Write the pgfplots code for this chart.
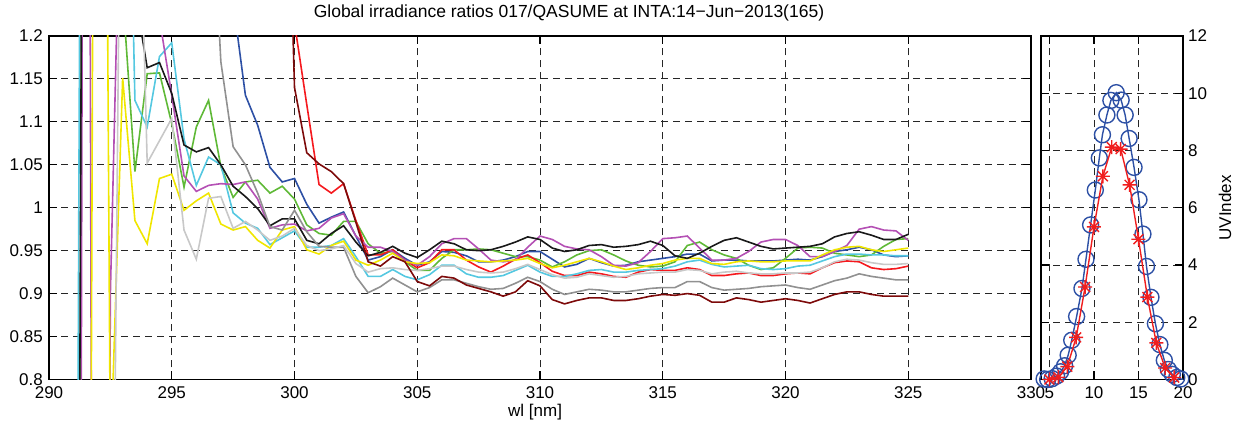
\documentclass[border=0pt]{standalone}
\usepackage{fontspec}
\setmainfont{Liberation Sans}
\usepackage{pgfplots}
\usepackage{pgfplotstable}
\pgfplotsset{compat=1.18}

\definecolor{cBlue}{RGB}{45,80,165}
\definecolor{cGreen}{RGB}{95,185,55}
\definecolor{cRed}{RGB}{245,25,30}
\definecolor{cCyan}{RGB}{85,200,225}
\definecolor{cMag}{RGB}{180,80,180}
\definecolor{cYel}{RGB}{240,230,0}
\definecolor{cBlack}{RGB}{25,25,25}
\definecolor{cGray}{RGB}{145,145,145}
\definecolor{cLGray}{RGB}{200,200,200}
\definecolor{cDRed}{RGB}{125,10,10}
\definecolor{uvBlue}{RGB}{45,80,165}
\definecolor{uvRed}{RGB}{240,30,30}

\pgfdeclareplotmark{mstar}{%
  \pgfpathmoveto{\pgfqpoint{-\pgfplotmarksize}{0pt}}\pgfpathlineto{\pgfqpoint{\pgfplotmarksize}{0pt}}%
  \pgfpathmoveto{\pgfqpoint{0pt}{-\pgfplotmarksize}}\pgfpathlineto{\pgfqpoint{0pt}{\pgfplotmarksize}}%
  \pgfpathmoveto{\pgfqpoint{-0.707\pgfplotmarksize}{-0.707\pgfplotmarksize}}\pgfpathlineto{\pgfqpoint{0.707\pgfplotmarksize}{0.707\pgfplotmarksize}}%
  \pgfpathmoveto{\pgfqpoint{-0.707\pgfplotmarksize}{0.707\pgfplotmarksize}}\pgfpathlineto{\pgfqpoint{0.707\pgfplotmarksize}{-0.707\pgfplotmarksize}}%
  \pgfusepathqstroke}

\pgfplotstableread{
x blue green red cyan mag yel black gray lgray dred
290 2 -1 2 -1 -3 -1 -1 2 -1 2
290.5 2 -1 2 -1 -3 -1 -1 2 -1 2
291 2 -2 2 -0.5 -3 -1 -1 2 -1 2
291.5 2 3 2 3 3 -1 2.5 2 -1 2
292 2 3 2 3 -2 3 2.5 2 -1 2
292.5 2 2 2 2.5 0.9 0.7 2.0 2 0.2 2
293 2 1.25 2 1.8 1.5 1.151 1.8 2 1.7 2
293.5 2 1.042 2 1.125 1.6 0.985 1.25 2 1.6 2
294 2 1.156 2 1.094 1.5 0.958 1.163 2 1.052 2
294.5 2 1.157 2 1.176 1.22 1.034 1.169 2 1.078 2
295 2 1.098 2 1.192 1.131 1.039 1.133 2 1.104 2
295.5 2 1.024 2 1.080 1.037 0.997 1.073 2 0.974 2
296 2 1.094 2 1.026 1.019 1.008 1.065 2 0.940 2
296.5 2 1.125 2 1.059 1.026 1.017 1.070 1.45 1.011 2
297 1.40 1.048 2 1.050 1.028 0.981 1.050 1.17 1.013 2
297.5 1.24 1.012 2 0.994 1.027 0.974 1.025 1.071 0.976 2
298 1.131 1.030 2 0.982 1.030 0.978 1.013 1.050 0.984 2
298.5 1.096 1.032 2 0.976 1.010 0.962 0.999 1.017 0.974 2
299 1.047 1.017 2 0.957 0.976 0.953 0.979 0.978 0.962 2
299.5 1.030 1.025 1.8 0.965 0.980 0.974 0.987 0.974 0.967 1.64
300 1.034 1.010 1.215 0.973 0.981 0.978 0.987 0.997 0.976 1.14
300.5 1.004 0.980 1.12 0.954 0.973 0.951 0.962 0.972 0.956 1.064
301 0.982 0.970 1.027 0.954 0.976 0.946 0.958 0.955 0.950 1.051
301.5 0.989 0.968 1.017 0.956 0.988 0.956 0.970 0.954 0.952 1.042
302 0.995 0.984 1.028 0.964 0.993 0.961 0.979 0.954 0.956 1.028
302.5 0.967 0.984 0.985 0.943 0.967 0.939 0.960 0.920 0.935 0.983
303 0.939 0.958 0.945 0.920 0.954 0.933 0.944 0.901 0.925 0.937
303.5 0.943 0.947 0.945 0.920 0.954 0.939 0.948 0.908 0.929 0.932
304 0.951 0.949 0.951 0.928 0.949 0.947 0.955 0.918 0.930 0.943
304.5 0.941 0.937 0.939 0.920 0.939 0.937 0.947 0.910 0.928 0.937
305 0.933 0.927 0.930 0.916 0.933 0.935 0.942 0.902 0.927 0.914
305.5 0.937 0.927 0.936 0.922 0.943 0.936 0.951 0.907 0.929 0.909
306 0.949 0.941 0.951 0.933 0.958 0.945 0.961 0.916 0.932 0.920
306.5 0.948 0.951 0.951 0.933 0.964 0.944 0.958 0.916 0.932 0.918
307 0.944 0.951 0.939 0.923 0.964 0.939 0.951 0.912 0.928 0.910
307.5 0.937 0.952 0.931 0.919 0.952 0.938 0.950 0.908 0.925 0.906
308 0.937 0.951 0.925 0.919 0.939 0.937 0.951 0.905 0.924 0.902
308.5 0.939 0.947 0.932 0.921 0.937 0.938 0.955 0.906 0.925 0.897
309 0.943 0.943 0.940 0.927 0.939 0.939 0.960 0.912 0.929 0.902
309.5 0.949 0.943 0.945 0.933 0.954 0.941 0.966 0.919 0.934 0.915
310 0.949 0.939 0.936 0.925 0.967 0.935 0.963 0.914 0.928 0.909
310.5 0.940 0.931 0.926 0.920 0.963 0.930 0.953 0.905 0.922 0.893
311 0.931 0.937 0.921 0.920 0.955 0.933 0.949 0.899 0.918 0.888
311.5 0.934 0.945 0.921 0.923 0.952 0.937 0.951 0.902 0.919 0.892
312 0.941 0.950 0.925 0.927 0.951 0.941 0.956 0.905 0.923 0.895
312.5 0.936 0.951 0.923 0.928 0.943 0.937 0.957 0.904 0.921 0.895
313 0.932 0.945 0.920 0.925 0.933 0.932 0.954 0.902 0.919 0.892
313.5 0.933 0.938 0.919 0.925 0.932 0.928 0.955 0.902 0.920 0.892
314 0.937 0.933 0.925 0.927 0.936 0.930 0.957 0.904 0.923 0.894
314.5 0.939 0.931 0.928 0.928 0.949 0.933 0.961 0.906 0.924 0.897
315 0.941 0.932 0.927 0.929 0.964 0.935 0.956 0.907 0.925 0.899
315.5 0.943 0.937 0.927 0.932 0.965 0.939 0.944 0.907 0.925 0.898
316 0.946 0.956 0.930 0.937 0.967 0.941 0.941 0.914 0.928 0.900
316.5 0.946 0.960 0.928 0.939 0.953 0.941 0.947 0.914 0.927 0.898
317 0.938 0.951 0.921 0.934 0.939 0.935 0.955 0.907 0.923 0.890
317.5 0.939 0.945 0.921 0.931 0.939 0.934 0.962 0.904 0.925 0.890
318 0.939 0.941 0.923 0.932 0.941 0.937 0.965 0.905 0.926 0.895
318.5 0.938 0.933 0.924 0.933 0.949 0.938 0.960 0.906 0.924 0.893
319 0.938 0.928 0.921 0.929 0.960 0.937 0.955 0.908 0.923 0.890
319.5 0.938 0.930 0.921 0.928 0.963 0.937 0.952 0.909 0.923 0.892
320 0.939 0.941 0.923 0.929 0.963 0.938 0.953 0.910 0.924 0.894
320.5 0.940 0.953 0.924 0.932 0.956 0.938 0.954 0.907 0.924 0.892
321 0.939 0.954 0.923 0.933 0.943 0.938 0.955 0.905 0.925 0.889
321.5 0.943 0.953 0.930 0.938 0.943 0.945 0.958 0.910 0.930 0.894
322 0.949 0.947 0.936 0.943 0.949 0.951 0.966 0.915 0.937 0.899
322.5 0.951 0.945 0.938 0.946 0.956 0.954 0.970 0.918 0.940 0.902
323 0.954 0.943 0.937 0.946 0.975 0.955 0.972 0.923 0.939 0.902
323.5 0.951 0.945 0.930 0.945 0.978 0.951 0.968 0.920 0.936 0.899
324 0.945 0.955 0.928 0.945 0.974 0.949 0.963 0.918 0.934 0.897
324.5 0.943 0.963 0.929 0.944 0.973 0.951 0.963 0.916 0.934 0.897
325 0.944 0.964 0.932 0.944 0.962 0.953 0.969 0.916 0.935 0.897
}\ratios

\pgfplotstableread{
t uvi
4.4 0.02
4.8 0.0
5.3 0.03
5.8 0.12
6.25 0.27
6.7 0.48
7.1 0.85
7.5 1.37
8.05 2.2
8.65 3.18
9.1 4.2
9.62 5.4
10.15 6.62
10.6 7.74
10.95 8.55
11.45 9.24
11.9 9.75
12.5 10.02
13.05 9.76
13.5 9.24
13.95 8.42
14.5 7.41
15.05 6.28
15.5 5.08
15.9 3.95
16.4 2.87
16.9 1.95
17.4 1.22
17.9 0.67
18.35 0.35
18.8 0.18
19.3 0.07
19.75 0.02
20.1 0.0
}\uvblue

\pgfplotstableread{
t uvi
5 0.0
6 0.08
7 0.45
8 1.47
9 3.23
10 5.33
11 7.1
12 8.12
13 8.05
14 6.8
15 4.9
16 2.88
17 1.28
18 0.4
19 0.07
}\uvred

\pgfplotsset{
  mystyle/.style={
    scale only axis,
    anchor=south west,
    height=343.5bp,
    axis line style={line width=1.5bp, black},
    every tick/.style={black, line width=1.1bp},
    major tick length=8bp,
    tick align=inside,
    grid=major,
    major grid style={dash pattern=on 7bp off 5bp, line width=0.9bp, black!85},
    /pgf/number format/assume math mode=true,
    ticklabel style={font=\fontsize{17bp}{20bp}\selectfont},
    xticklabel style={anchor=base, yshift=-19.5bp},
    label style={font=\fontsize{17bp}{20bp}\selectfont},
  }
}

\begin{document}
\begin{tikzpicture}
\useasboundingbox (0,0) rectangle (1248bp,434bp);
\begin{axis}[mystyle,
  at={(49bp,54.5bp)},
  width=982bp,
  xmin=290, xmax=330, ymin=0.8, ymax=1.2,
  xtick={290,295,300,305,310,315,320,325,330},
  ytick={0.8,0.85,0.9,0.95,1,1.05,1.1,1.15,1.2},
  yticklabel style={anchor=east, inner sep=0pt, xshift=-6bp},
  xlabel={wl [nm]},
  xlabel style={at={(axis description cs:0.495,-0.1077)}, anchor=base},
  title={Global irradiance ratios 017/QASUME at INTA:14−Jun−2013(165)},
  title style={at={(axis description cs:0.5295,1.0349)}, anchor=base, font=\fontsize{17.5bp}{20bp}\selectfont},
  every axis plot/.append style={line width=1.6bp, mark=none},
]
\addplot[cBlue] table[x=x, y=blue] {\ratios};
\addplot[cGreen] table[x=x, y=green] {\ratios};
\addplot[cRed] table[x=x, y=red] {\ratios};
\addplot[cCyan] table[x=x, y=cyan] {\ratios};
\addplot[cMag] table[x=x, y=mag] {\ratios};
\addplot[cYel] table[x=x, y=yel] {\ratios};
\addplot[cBlack] table[x=x, y=black] {\ratios};
\addplot[cGray] table[x=x, y=gray] {\ratios};
\addplot[cLGray] table[x=x, y=lgray] {\ratios};
\addplot[cDRed] table[x=x, y=dred] {\ratios};
\end{axis}

\begin{axis}[mystyle,
  at={(1041bp,54.5bp)},
  width=142bp,
  xmin=4.05, xmax=20, ymin=0, ymax=12,
  xtick={5,10,15,20},
  ytick={0,2,4,6,8,10,12},
  yticklabel pos=right,
  yticklabel style={anchor=west, inner sep=0pt, xshift=5bp},
  ylabel={UVIndex},
  ylabel style={at={(axis description cs:1.296,0.5)}, anchor=center},
  clip mode=individual,
]
\addplot[uvBlue, line width=1.4bp, mark=o, mark size=8bp, mark options={line width=1.4bp}] table[x=t, y=uvi] {\uvblue};
\addplot[uvRed, line width=1.4bp, mark=mstar, mark size=7bp, mark options={line width=1.4bp}] table[x=t, y=uvi] {\uvred};
\end{axis}
\end{tikzpicture}
\end{document}
